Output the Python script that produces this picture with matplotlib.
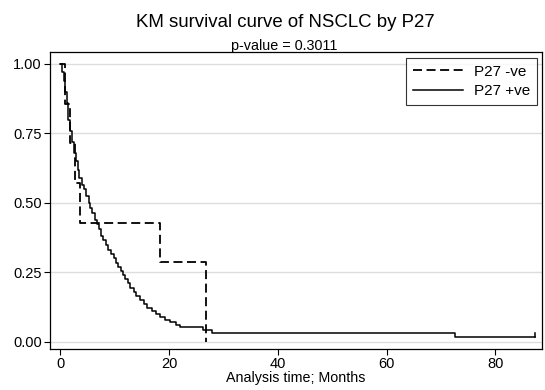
import matplotlib
matplotlib.use("Agg")
import matplotlib.pyplot as plt

plt.rcParams['font.family'] = ['Liberation Sans', 'DejaVu Sans']

# P27 -ve group (dashed)
neg_time = [0, 0.85, 1.8, 2.7, 3.6, 18.3, 26.8]
neg_surv = [1.0, 0.857, 0.714, 0.571, 0.429, 0.286, 0.0]

# P27 +ve group (solid)
pos_time = [0, 0.3, 0.6, 0.9, 1.2, 1.5, 1.8, 2.1, 2.5, 2.8, 3.2, 3.5, 3.9, 4.3,
            4.8, 5.2, 5.5, 5.9, 6.3, 6.7, 7.1, 7.5, 7.9, 8.4, 8.8, 9.3, 9.8,
            10.2, 10.7, 11.1, 11.5, 11.9, 12.4, 12.9, 13.5, 14.0, 14.6, 15.3,
            16.0, 16.8, 17.6, 18.3, 19.3, 20.2, 21.2, 22.1, 26.3, 27.9, 72.6, 87.3]
pos_surv = [1.0, 0.97, 0.94, 0.90, 0.86, 0.80, 0.76, 0.72, 0.68, 0.65, 0.62, 0.59,
            0.565, 0.55, 0.525, 0.50, 0.48, 0.465, 0.44, 0.425, 0.405, 0.38, 0.365,
            0.35, 0.33, 0.315, 0.30, 0.285, 0.27, 0.255, 0.24, 0.225, 0.21, 0.195,
            0.18, 0.165, 0.15, 0.135, 0.12, 0.11, 0.10, 0.09, 0.08, 0.072, 0.062,
            0.054, 0.043, 0.030, 0.0155, 0.0155]

x_ticks = [0, 20, 40, 60, 80]
y_ticks = [0.0, 0.25, 0.5, 0.75, 1.0]
y_tick_labels = ["0.00", "0.25", "0.50", "0.75", "1.00"]

fig = plt.figure(figsize=(5.45, 3.9), dpi=100)
ax = fig.add_axes([50/545, 1-349/390, 492/545, 297/390])

for y in y_ticks:
    ax.axhline(y, color='#dddddd', lw=1.0, zorder=0)

ax.plot(neg_time, neg_surv, drawstyle='steps-post', color='black', lw=1.3,
        dashes=(5, 2.5), label='P27 -ve')
ax.plot(pos_time, pos_surv, drawstyle='steps-post', color='black', lw=1.1,
        label='P27 +ve')
# censor tick at the end of the solid curve
ax.plot([pos_time[-1], pos_time[-1]], [pos_surv[-1], pos_surv[-1] + 0.017],
        color='black', lw=1.1)

ax.set_xlim(-1.9, 88.6)
ax.set_ylim(-0.026, 1.043)
ax.set_xticks(x_ticks)
ax.set_yticks(y_ticks)
ax.set_yticklabels(y_tick_labels)
ax.tick_params(labelsize=10.5, length=4, width=0.8, color='black', pad=2)
for s in ax.spines.values():
    s.set_linewidth(0.9)
    s.set_color('black')
ax.set_xlabel('Analysis time; Months', fontsize=10.3, labelpad=0)

leg = ax.legend(loc='upper right', fontsize=11, frameon=True, fancybox=False,
                edgecolor='black', handlelength=3.3, borderpad=0.45,
                labelspacing=0.35, handletextpad=0.7, borderaxespad=0,
                bbox_to_anchor=(0.99, 0.98))
leg.get_frame().set_linewidth(0.8)

fig.text(285/545, 1-27/390, 'KM survival curve of NSCLC by P27', ha='center',
         va='baseline', fontsize=13.4)
fig.text(284/545, 1-50/390, 'p-value = 0.3011', ha='center', va='baseline',
         fontsize=10.4)

fig.savefig('out.png', dpi=100)
